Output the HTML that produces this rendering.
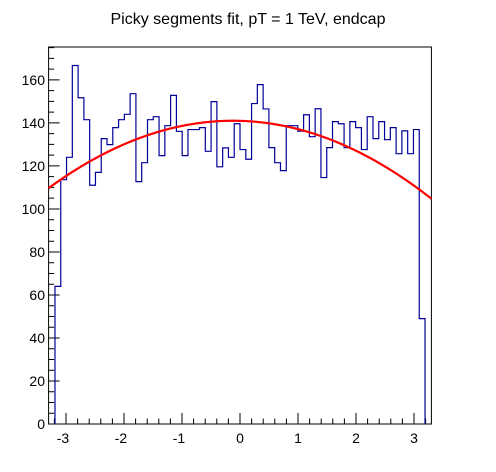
<!DOCTYPE html>
<html><head><meta charset="utf-8"><style>
html,body{margin:0;padding:0;background:#fff;}
svg{display:block;font-family:"Liberation Sans",Arial,sans-serif;}
</style></head><body>
<svg id="chart" width="496" height="472" viewBox="0 0 496 472">
<text x="248" y="24" text-anchor="middle" font-size="16">Picky segments fit, pT = 1 TeV, endcap</text>
<g id="axes"></g>
<g id="hist"></g>
<g id="fit"></g>
</svg>
<script>
const binLow = -3.19;
const binHigh = 3.19;
const counts = [64,113.6,124,166.7,151.7,141.5,111,117,132.7,129.9,137.8,141.5,144,153.6,112.7,121.5,141.5,142.9,124.8,138.7,152.8,136.1,124.8,136.9,136.9,137.8,126.8,149.9,119.6,128.4,124,139.6,127.6,123.1,149,157.8,146.5,128.5,121.5,117.8,138.7,138.7,136.2,143.8,133.6,146.6,114.6,128.5,140.6,139.6,128.5,140.6,137.8,127.6,142.9,132.7,140.6,132.2,137.8,125.7,136.3,125.7,136.9,49];
const fitParams = [141, 3.1, -0.12]; // peak, curvature, center
const xTicks = [-3,-2,-1,0,1,2,3];
const yTicks = [0,20,40,60,80,100,120,140,160];
const xMin=-3.3, xMax=3.3, yMin=0, yMax=175.3;
const L=48.6, R=431.4, T=47, B=424;
const sx = v => L + (v-xMin)/(xMax-xMin)*(R-L);
const sy = v => B - (v-yMin)/(yMax-yMin)*(B-T);
const NS="http://www.w3.org/2000/svg";
function mk(tag, parent){const e=document.createElementNS(NS,tag);parent.appendChild(e);return e;}
const axes=document.getElementById('axes');
const frame=mk('rect',axes);
frame.setAttribute('x',L);frame.setAttribute('y',T);frame.setAttribute('width',R-L);frame.setAttribute('height',B-T);
frame.setAttribute('fill','none');frame.setAttribute('stroke','#000');frame.setAttribute('stroke-width','1');


let tp='';
for(let v=-3.2; v<=3.21; v+=0.2){
  const r=Math.round(v*10)/10; const x=sx(r);
  const len = Math.abs(r-Math.round(r))<1e-6 ? 11 : (Math.abs(Math.abs(r%1)-0.5)<1e-6 ? 8 : 5.5);
  tp+=`M${x},${B}V${B-len}`;
}
for(let v=0; v<=175; v+=5){
  const y=sy(v); const len = v%20===0 ? 11 : 5.5;
  tp+=`M${L},${y}H${L+len}`;
}
const ticks=mk('path',axes);
ticks.setAttribute('d',tp);ticks.setAttribute('stroke','#000');ticks.setAttribute('fill','none');


xTicks.forEach(v=>{
  const t=mk('text',axes);t.textContent=v;t.setAttribute('x',sx(v)+(v<0?-3:0));t.setAttribute('y',443);
  t.setAttribute('text-anchor','middle');t.setAttribute('font-size','14');
  
  
});
yTicks.forEach(v=>{
  const t=mk('text',axes);t.textContent=v;t.setAttribute('x',45);t.setAttribute('y',sy(v)+5);
  t.setAttribute('text-anchor','end');t.setAttribute('font-size','14');
  
  
});
const n=counts.length, w=(binHigh-binLow)/n;
let d=`M${sx(binLow)},${sy(0)}`;
counts.forEach((c,i)=>{d+=`V${sy(c)}H${sx(binLow+(i+1)*w)}`;});
d+=`V${sy(0)}`;
const h=mk('path',document.getElementById('hist'));
h.setAttribute('d',d);h.setAttribute('fill','none');h.setAttribute('stroke','#000099');h.setAttribute('stroke-width','1.2');


let fd='';
for(let k=0;k<=200;k++){
  const x=xMin+(xMax-xMin)*k/200;
  const y=fitParams[0]-fitParams[1]*(x-fitParams[2])*(x-fitParams[2]);
  fd+=(k?'L':'M')+sx(x)+','+sy(y);
}
const f=mk('path',document.getElementById('fit'));
f.setAttribute('d',fd);f.setAttribute('fill','none');f.setAttribute('stroke','#ff0000');f.setAttribute('stroke-width','2.2');


</script>
</body></html>
